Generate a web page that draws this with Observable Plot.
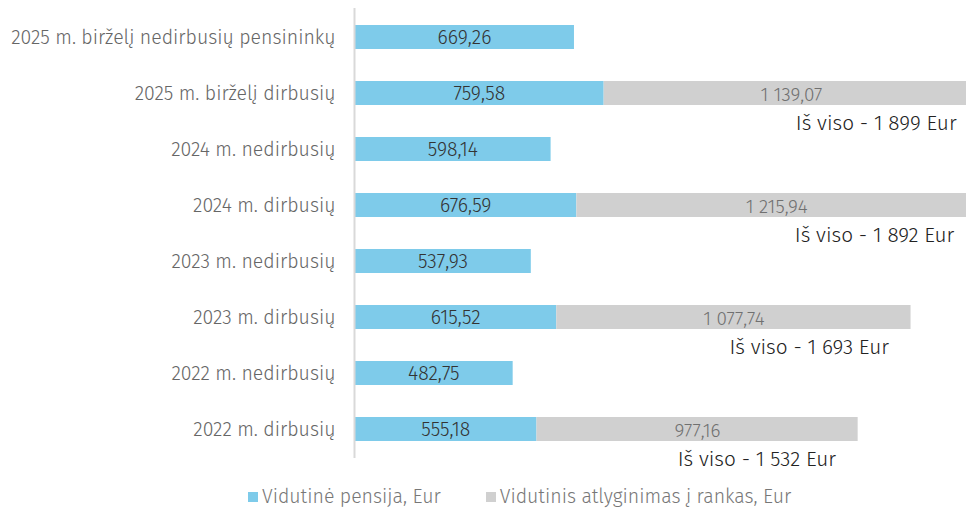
<!DOCTYPE html>
<html>
<head>
<meta charset="utf-8">
<script src="https://cdn.jsdelivr.net/npm/d3@7"></script>
<script src="https://cdn.jsdelivr.net/npm/@observablehq/plot@0.6"></script>
<style>
  html, body { margin: 0; padding: 0; background: #fff; overflow: hidden; }
  body { font-family: "Fira Sans", "Open Sans", "Noto Sans", sans-serif; width: 966px; font-weight: 300; }
  #legend { display: flex; align-items: center; padding-left: 248px; margin-top: 6px; font-size: 19.5px; color: #777; line-height: 22px; font-weight: 300; }
  .item { display: flex; align-items: center; margin-right: 45px; }
  .sw { width: 10px; height: 10px; margin-right: 4px; display: inline-block; }
</style>
</head>
<body>
<div id="chart"></div>
<div id="legend"></div>
<script>
const categories = [
  "2025 m. birželį nedirbusių pensininkų",
  "2025 m. birželį dirbusių",
  "2024 m. nedirbusių",
  "2024 m. dirbusių",
  "2023 m. nedirbusių",
  "2023 m. dirbusių",
  "2022 m. nedirbusių",
  "2022 m. dirbusių"
];
const pension = [669.26, 759.58, 598.14, 676.59, 537.93, 615.52, 482.75, 555.18];
const salary = [null, 1139.07, null, 1215.94, null, 1077.74, null, 977.16];
const totals = [null, 1899, null, 1892, null, 1693, null, 1532];
const seriesNames = ["Vidutinė pensija, Eur", "Vidutinis atlyginimas į rankas, Eur"];
const colors = ["#7ecbea", "#d0d0d0"];

const loc = d3.formatLocale({decimal: ",", thousands: "\u00a0", grouping: [3], currency: ["", " Eur"]});
const fmt2 = loc.format(",.2f");
const fmt0 = loc.format(",.0f");

const rows = [];
categories.forEach((c, i) => {
  rows.push({cat: c, series: seriesNames[0], value: pension[i]});
  if (salary[i] != null) rows.push({cat: c, series: seriesNames[1], value: salary[i]});
});
const totalRows = categories.map((c, i) => ({cat: c, total: totals[i]})).filter(d => d.total != null);

const font = '"Fira Sans", "Open Sans", "Noto Sans", sans-serif';

const plot = Plot.plot({
  width: 966,
  height: 480,
  marginLeft: 354,
  marginRight: 0,
  marginTop: 8,
  marginBottom: 22,
  style: {fontFamily: font, background: "#fff", overflow: "visible", fontWeight: 300},
  x: {domain: [0, 1862], axis: null},
  y: {domain: categories, paddingInner: 0.57, paddingOuter: 0.285, label: null},
  color: {domain: seriesNames, range: colors},
  marks: [
    Plot.barX(rows, Plot.stackX({x: "value", y: "cat", fill: "series", clip: "frame"})),
    Plot.textX(rows, Plot.stackX({
      x: "value", y: "cat", z: "series",
      text: d => d.series === seriesNames[0] ? fmt2(d.value) : null,
      fill: "#333", fontSize: 19.5, fontWeight: 300
    })),
    Plot.textX(rows, Plot.stackX({
      x: "value", y: "cat", z: "series",
      text: d => d.series === seriesNames[1] ? fmt2(d.value) : null,
      fill: "#707070", fontSize: 19, fontWeight: 300, dy: 1
    })),
    Plot.text(totalRows, {
      x: "total", y: "cat", text: d => "Iš viso - " + fmt0(d.total) + " Eur",
      textAnchor: "end", dx: -22, dy: 30, fill: "#222", fontSize: 20.8, fontWeight: 300
    }),
    Plot.ruleX([0], {stroke: "#d9d9d9", strokeWidth: 2}),
    Plot.axisY({tickSize: 0, tickPadding: 19, fontSize: 19.5, fontWeight: 300, fill: "#666", label: null})
  ]
});
document.getElementById("chart").appendChild(plot);

const legend = document.getElementById("legend");
seriesNames.forEach((s, i) => {
  const it = document.createElement("div");
  it.className = "item";
  const sw = document.createElement("span");
  sw.className = "sw";
  sw.style.background = colors[i];
  it.appendChild(sw);
  const t = document.createElement("span");
  t.textContent = s;
  it.appendChild(t);
  legend.appendChild(it);
});
</script>
</body>
</html>
